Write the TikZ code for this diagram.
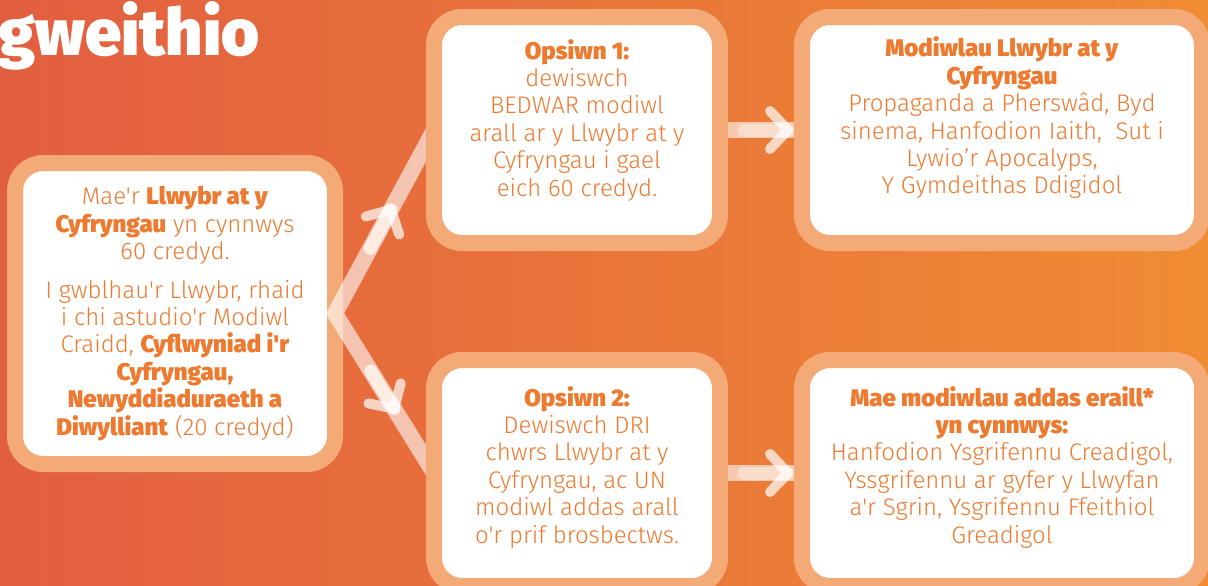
\documentclass[tikz,border=0pt]{standalone}
\usepackage{fontspec}
\setmainfont{Fira Sans}[UprightFont=* Light, BoldFont=* Black, Ligatures=TeXOff]
\usetikzlibrary{positioning, decorations.markings}

\definecolor{bgleft}{HTML}{E25E40}
\definecolor{bgright}{HTML}{F08C34}
\definecolor{peach}{HTML}{F4AA77}
\definecolor{ink}{HTML}{EE7A30}
\definecolor{glow}{HTML}{FDECE1}

\pgfdeclarelayer{back}
\pgfdeclarelayer{links}
\pgfsetlayers{back,links,main}

\tikzset{
  box/.style={draw=peach, line width=8pt, fill=white, rounded corners=14pt,
    outer sep=0pt, inner sep=0pt},
  boxtext/.style={text=ink, align=center, inner sep=0pt,
    font=\fontsize{12pt}{13.7pt}\selectfont},
  link/.style={draw=white, draw opacity=0.6, line width=8pt},
  pointer/.style={postaction={decorate, decoration={markings,
    mark=at position #1 with {
      \draw[glow, line width=6.5pt, line cap=round] (-22pt,0) -- (0,0);
      \draw[white, draw opacity=0.7, line width=5pt, line cap=round,
        line join=round] (-9pt,9.5pt) -- (0,0) -- (-9pt,-9.5pt);
    }}}}
}

\begin{document}
\begin{tikzpicture}[x=0.5pt, y=-0.5pt]
  \useasboundingbox (0,0) rectangle (1208,585);
  \clip (0,0) rectangle (1208,585);

  \begin{pgfonlayer}{back}
    \shade[left color=bgleft, right color=bgright] (0,0) rectangle (1208,585);
    \node[text=white, anchor=base west, inner sep=0pt,
      font=\fontsize{32.5pt}{32.5pt}\selectfont\bfseries] (title) at (-2,55) {gweithio};

    \node[box, minimum width=160pt, minimum height=150.5pt] (intro) at (175,313.5) {};
    \node[boxtext] (intro-text) at (intro) {%
      Mae'r \textbf{Llwybr at y}\\
      \textbf{Cyfryngau} yn cynnwys\\
      60 credyd.\\[5.5pt]
      I gwblhau'r Llwybr, rhaid\\
      i chi astudio'r Modiwl\\
      Craidd, \textbf{Cyflwyniad i'r}\\
      \textbf{Cyfryngau,}\\
      \textbf{Newyddiaduraeth a}\\
      \textbf{Diwylliant} (20 credyd)};
  \end{pgfonlayer}

  % option boxes
  \node[box, minimum width=143pt, minimum height=113pt] (opt1) at (577,130) {};
  \node[box, minimum width=143pt, minimum height=113pt, below=58.5pt of opt1] (opt2) {};
  \node[box, minimum width=200pt, minimum height=113pt, right=41pt of opt1] (mods) {};
  \node[box, minimum width=200pt, minimum height=113pt, below=58.5pt of mods] (others) {};

  \node[boxtext, yshift=5pt] (opt1-text) at (opt1) {%
    \textbf{Opsiwn 1:}\\
    dewiswch\\
    BEDWAR modiwl\\
    arall ar y Llwybr at y\\
    Cyfryngau i gael\\
    eich 60 credyd.};
  \node[boxtext, yshift=6pt] (mods-text) at (mods) {%
    \textbf{Modiwlau Llwybr at y}\\
    \textbf{Cyfryngau}\\
    Propaganda a Pherswâd, Byd\\
    sinema, Hanfodion Iaith, \ Sut i\\
    Lywio’r Apocalyps,\\
    Y Gymdeithas Ddigidol};
  \node[boxtext, yshift=3pt] (opt2-text) at (opt2) {%
    \textbf{Opsiwn 2:}\\
    Dewiswch DRI\\
    chwrs Llwybr at y\\
    Cyfryngau, ac UN\\
    modiwl addas arall\\
    o'r prif brosbectws.};
  \node[boxtext, yshift=3pt] (others-text) at (others) {%
    \textbf{Mae modiwlau addas eraill*}\\
    \textbf{yn cynnwys:}\\
    Hanfodion Ysgrifennu Creadigol,\\
    Yssgrifennu ar gyfer y Llwyfan\\
    a'r Sgrin, Ysgrifennu Ffeithiol\\
    Greadigol};

  \begin{pgfonlayer}{links}
    \draw[link] (opt1.west) -- (intro.east) -- (opt2.west);
    \path[pointer=59pt] (intro.east) -- (opt1.west);
    \path[pointer=56pt] (intro.east) -- (opt2.west);
    \path[link]
    (opt1.east) edge[pointer=34pt] (mods.west)
    (opt2.east) edge[pointer=34pt] (others.west)
    ;
  \end{pgfonlayer}
\end{tikzpicture}
\end{document}
